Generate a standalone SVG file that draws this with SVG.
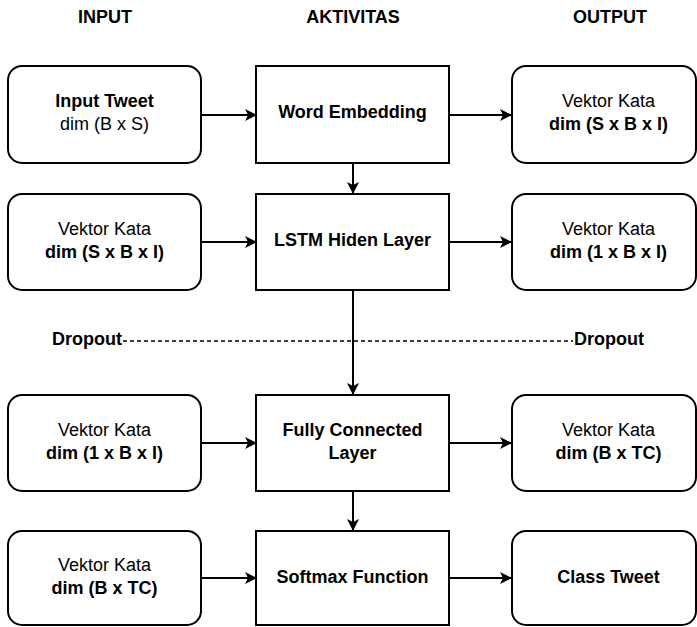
<svg xmlns="http://www.w3.org/2000/svg" width="697" height="627" viewBox="0 0 697 627">
  <style>
    .box { fill: #ffffff; stroke: #000000; stroke-width: 2; }
    .t { font-family: "Liberation Sans", Arial, sans-serif; font-size: 18px; fill: #000000; text-anchor: middle; }
    .b { font-weight: bold; }
    .edge { fill: none; stroke: #000000; stroke-width: 2; }
    .dash { fill: none; stroke: #000000; stroke-width: 1.3; stroke-dasharray: 4 3; }
  </style>
  <defs>
    <marker id="arrow" viewBox="0 0 12 12" refX="11" refY="6" markerWidth="12" markerHeight="12" markerUnits="userSpaceOnUse" orient="auto">
      <path d="M0,0 L12,6 L0,12 L3,6 Z" fill="#000000"/>
    </marker>
  </defs>

  <rect width="697" height="627" fill="#ffffff"/>

  <!-- column headings -->
  <g id="headers">
    <text class="t b" x="105" y="23">INPUT</text>
    <text class="t b" x="353" y="23">AKTIVITAS</text>
    <text class="t b" x="610" y="23">OUTPUT</text>
  </g>

  <!-- connectors -->
  <g id="connectors">
    <line class="dash" x1="123" y1="341" x2="573" y2="341"/>
    <line class="edge" x1="201" y1="115" x2="256" y2="115" marker-end="url(#arrow)"/>
    <line class="edge" x1="449" y1="115" x2="511" y2="115" marker-end="url(#arrow)"/>
    <line class="edge" x1="201" y1="242" x2="256" y2="242" marker-end="url(#arrow)"/>
    <line class="edge" x1="449" y1="242" x2="511" y2="242" marker-end="url(#arrow)"/>
    <line class="edge" x1="201" y1="443" x2="256" y2="443" marker-end="url(#arrow)"/>
    <line class="edge" x1="449" y1="443" x2="511" y2="443" marker-end="url(#arrow)"/>
    <line class="edge" x1="201" y1="578" x2="256" y2="578" marker-end="url(#arrow)"/>
    <line class="edge" x1="449" y1="578" x2="511" y2="578" marker-end="url(#arrow)"/>
    <line class="edge" x1="353" y1="163" x2="353" y2="193" marker-end="url(#arrow)"/>
    <line class="edge" x1="353" y1="290" x2="353" y2="394" marker-end="url(#arrow)"/>
    <line class="edge" x1="353" y1="491" x2="353" y2="530" marker-end="url(#arrow)"/>
  </g>

  <!-- dropout labels -->
  <g id="dropout-left"><text class="t b" x="87" y="345">Dropout</text></g>
  <g id="dropout-right"><text class="t b" x="609" y="345">Dropout</text></g>

  <!-- row 1 -->
  <g id="input-tweet">
    <rect class="box" x="8" y="66" width="193" height="97" rx="14"/>
    <text class="t b" x="104.5" y="107">Input Tweet</text>
    <text class="t" x="104.5" y="130">dim (B x S)</text>
  </g>
  <g id="word-embedding">
    <rect class="box" x="256" y="66" width="193" height="97"/>
    <text class="t b" x="352.5" y="118">Word Embedding</text>
  </g>
  <g id="out-vektor-1">
    <rect class="box" x="512" y="66" width="184" height="97" rx="14"/>
    <text class="t" x="608.5" y="107">Vektor Kata</text>
    <text class="t b" x="608.5" y="130">dim (S x B x I)</text>
  </g>

  <!-- row 2 -->
  <g id="in-vektor-2">
    <rect class="box" x="8" y="194" width="193" height="96" rx="14"/>
    <text class="t" x="104.5" y="235">Vektor Kata</text>
    <text class="t b" x="104.5" y="258">dim (S x B x I)</text>
  </g>
  <g id="lstm-hidden">
    <rect class="box" x="256" y="194" width="193" height="96"/>
    <text class="t b" x="352.5" y="246">LSTM Hiden Layer</text>
  </g>
  <g id="out-vektor-2">
    <rect class="box" x="512" y="194" width="184" height="96" rx="14"/>
    <text class="t" x="608.5" y="235">Vektor Kata</text>
    <text class="t b" x="608.5" y="258">dim (1 x B x I)</text>
  </g>

  <!-- row 3 -->
  <g id="in-vektor-3">
    <rect class="box" x="8" y="395" width="193" height="96" rx="14"/>
    <text class="t" x="104.5" y="436">Vektor Kata</text>
    <text class="t b" x="104.5" y="459">dim (1 x B x I)</text>
  </g>
  <g id="fully-connected">
    <rect class="box" x="256" y="395" width="193" height="96"/>
    <text class="t b" x="352.5" y="436">Fully Connected</text>
    <text class="t b" x="352.5" y="459">Layer</text>
  </g>
  <g id="out-vektor-3">
    <rect class="box" x="512" y="395" width="184" height="96" rx="14"/>
    <text class="t" x="608.5" y="436">Vektor Kata</text>
    <text class="t b" x="608.5" y="459">dim (B x TC)</text>
  </g>

  <!-- row 4 -->
  <g id="in-vektor-4">
    <rect class="box" x="8" y="531" width="193" height="94" rx="14"/>
    <text class="t" x="104.5" y="571">Vektor Kata</text>
    <text class="t b" x="104.5" y="594">dim (B x TC)</text>
  </g>
  <g id="softmax">
    <rect class="box" x="256" y="531" width="193" height="94"/>
    <text class="t b" x="352.5" y="583">Softmax Function</text>
  </g>
  <g id="class-tweet">
    <rect class="box" x="512" y="531" width="184" height="94" rx="14"/>
    <text class="t b" x="608.5" y="583">Class Tweet</text>
  </g>
</svg>
